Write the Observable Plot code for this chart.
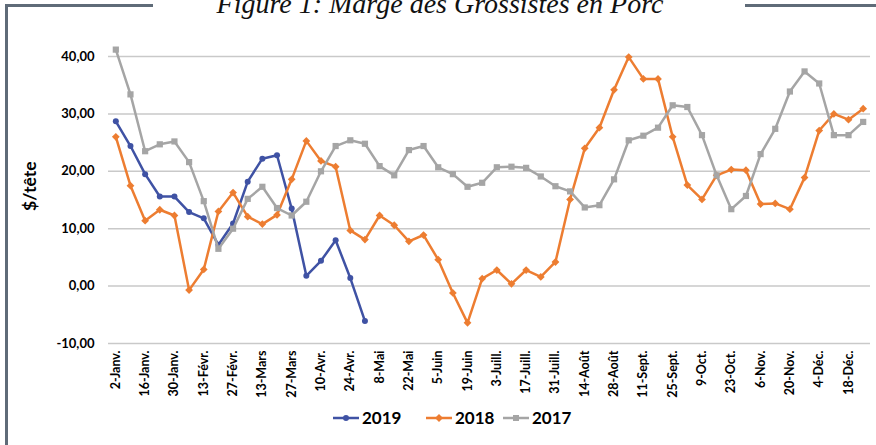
<!DOCTYPE html>
<html>
<head>
<meta charset="utf-8">
<script src="https://cdn.jsdelivr.net/npm/d3@7"></script>
<script src="https://cdn.jsdelivr.net/npm/@observablehq/plot@0.6"></script>
<style>
  body { margin: 0; background: #fff; }
  #wrap { position: relative; width: 876px; height: 445px; overflow: hidden; background: #fff; font-family: Lato, sans-serif; }
  #chart { position: absolute; left: 0; top: 0; }
  .bar { position: absolute; background: #5f6b78; }
  #title { position: absolute; left: 0; top: -10px; width: 880px; text-align: center; font: italic 28px/28px "Liberation Serif", serif; color: #111; white-space: nowrap; }
  .leg { position: absolute; top: 407px; display: flex; align-items: center; font: bold 17px Lato, sans-serif; color: #000; }
  .leg svg { margin-right: 3px; }
</style>
</head>
<body>
<div id="wrap">
  <div id="chart"></div>
  <div class="bar" style="left:5px;top:4px;width:3px;height:441px;"></div>
  <div class="bar" style="left:5px;top:4px;width:148px;height:3px;"></div>
  <div class="bar" style="left:745px;top:4px;width:131px;height:3px;"></div>
  <div id="title">Figure 1: Marge des Grossistes en Porc</div>
  <div id="legend"></div>
</div>
<script>
// Series names and colours
const seriesNames = ["2019", "2018", "2017"];
const seriesColors = ["#3f52a4", "#ed7d31", "#a5a5a5"];
const seriesSymbols = ["circle", "diamond2", "square"];

// Tick labels (every second week)
const tickLabels = ["2-Janv.", "16-Janv.", "30-Janv.", "13-Févr.", "27-Févr.", "13-Mars", "27-Mars",
  "10-Avr.", "24-Avr.", "8-Mai", "22-Mai", "5-Juin", "19-Juin", "3-Juill.", "17-Juill.", "31-Juill.",
  "14-Août", "28-Août", "11-Sept.", "25-Sept.", "9-Oct.", "23-Oct.", "6-Nov.", "20-Nov.", "4-Déc.", "18-Déc."];

const yTicks = [-10, 0, 10, 20, 30, 40];

// Weekly values ($/tête)
const v2019 = [28.7, 24.4, 19.5, 15.6, 15.6, 12.9, 11.8, 7.2, 10.9, 18.2,
  22.2, 22.8, 13.5, 1.8, 4.4, 8.0, 1.4, -6.1];
const v2018 = [26.0, 17.5, 11.4, 13.3, 12.3, -0.7, 2.9, 13.0, 16.3, 12.1,
  10.8, 12.4, 18.6, 25.3, 21.8, 20.8, 9.7, 8.1, 12.3, 10.6,
  7.8, 8.9, 4.6, -1.2, -6.4, 1.3, 2.8, 0.4, 2.8, 1.6,
  4.2, 15.1, 24.0, 27.6, 34.2, 39.9, 36.1, 36.1, 26.0, 17.6,
  15.1, 19.3, 20.3, 20.2, 14.3, 14.4, 13.4, 18.9, 27.1, 30.0,
  29.0, 30.9];
const v2017 = [41.2, 33.4, 23.5, 24.7, 25.2, 21.6, 14.8, 6.5, 10.0, 15.2,
  17.3, 13.6, 12.3, 14.7, 20.0, 24.4, 25.4, 24.8, 20.9, 19.3,
  23.7, 24.4, 20.7, 19.5, 17.3, 18.0, 20.7, 20.8, 20.6, 19.1,
  17.4, 16.5, 13.7, 14.1, 18.6, 25.4, 26.2, 27.6, 31.5, 31.2,
  26.3, 19.3, 13.4, 15.7, 23.0, 27.4, 33.9, 37.4, 35.3, 26.3,
  26.3, 28.6];

const allSeries = [v2019, v2018, v2017];
const nWeeks = 52;
const tickIdx = tickLabels.map((_, i) => i * 2);
const fmt = d => d.toFixed(2).replace(".", ",");

const marks = [
  Plot.ruleY(yTicks, {stroke: "#c9c9c9", strokeWidth: 1.5}),
  Plot.axisY({ticks: yTicks, tickSize: 0, tickPadding: 14, tickFormat: fmt, fontSize: 13, fontWeight: "bold", fill: "#000", label: null}),
  Plot.axisX({ticks: tickIdx, tickFormat: d => tickLabels[d / 2], tickRotate: -90, tickSize: 0, tickPadding: 7, fontSize: 12.5, fontWeight: "bold", fill: "#000", label: null}),
  Plot.text(["$/tête"], {frameAnchor: "left", dx: -78, dy: 11, rotate: -90, fontSize: 17.5, fontWeight: "bold", fill: "#000"})
];
allSeries.forEach((vals, k) => {
  marks.push(Plot.line(vals, {x: (d, i) => i, y: d => d, stroke: seriesColors[k], strokeWidth: 2.5}));
  marks.push(Plot.dot(vals, {x: (d, i) => i, y: d => d, fill: seriesColors[k], symbol: seriesSymbols[k], r: k === 0 ? 3 : 3.5, stroke: "none"}));
});

const chart = Plot.plot({
  width: 876,
  height: 400,
  marginLeft: 108,
  marginRight: 6,
  marginTop: 56,
  marginBottom: 57,
  x: {domain: [-0.5, nWeeks - 0.5]},
  y: {domain: [-10, 40]},
  style: {fontFamily: "Lato, sans-serif", background: "transparent", color: "#000"},
  marks
});
document.getElementById("chart").appendChild(chart);

// Legend
const legendLeft = [333, 426, 503];
const legend = document.getElementById("legend");
seriesNames.forEach((name, k) => {
  const item = document.createElement("div");
  item.className = "leg";
  item.style.left = legendLeft[k] + "px";
  let marker;
  if (k === 0) marker = `<circle cx="13" cy="8" r="3" fill="${seriesColors[k]}"/>`;
  else if (k === 1) marker = `<path d="M13,4 L17,8 L13,12 L9,8 Z" fill="${seriesColors[k]}"/>`;
  else marker = `<rect x="10" y="5" width="6" height="6" fill="${seriesColors[k]}"/>`;
  item.innerHTML = `<svg width="26" height="16"><line x1="0" y1="8" x2="26" y2="8" stroke="${seriesColors[k]}" stroke-width="2.5"/>${marker}</svg><span>${name}</span>`;
  legend.appendChild(item);
});
</script>
</body>
</html>
